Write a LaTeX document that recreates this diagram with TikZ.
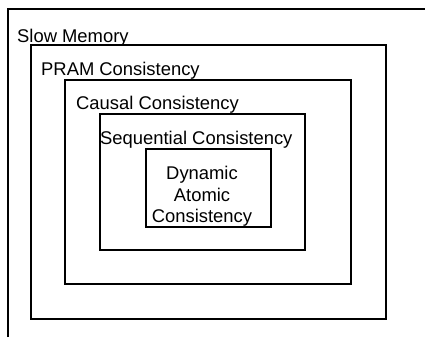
\documentclass[tikz,border=0pt]{standalone}
\usepackage{fontspec}
\setmainfont{Liberation Sans}
\usetikzlibrary{positioning}
\definecolor{ink}{HTML}{000000}

\begin{document}
\begin{tikzpicture}[
  x=1pt, y=-1pt,
  frame/.style={draw=ink, line width=2pt, inner sep=0pt, anchor=north west},
  level/.style={font=\fontsize{18.4}{21.5}\selectfont, text=ink, inner sep=0pt, anchor=base west}
]
\useasboundingbox (0,0) rectangle (425,337);

% outer region, cut off at the right and bottom
\coordinate (slowtop) at (425,9);
\coordinate (slowbot) at (8,337);
\draw[draw=ink, line width=2pt] (slowbot) -- (slowbot |- slowtop) -- (slowtop);

\node[frame, minimum width=355pt, minimum height=274pt] (pram) at (30,44) {};
\node[frame, minimum width=286pt, minimum height=204pt] (causal) at (64,79) {};
\node[frame, minimum width=205pt, minimum height=136pt] (seq) at (99,113) {};
\node[frame, minimum width=125pt, minimum height=78pt] (atomic) at (145,148) {};

\node[level] (slowlbl) at (17,42) {Slow Memory};
\node[level] (pramlbl) at (41,75.5) {PRAM Consistency};
\node[level] (causallbl) at (76,109.5) {Causal Consistency};
\node[level] (seqlbl) at (100,144.3) {Sequential Consistency};
\node[level, align=center, anchor=north] (atomiclbl) at (202,166)
  {Dynamic\\Atomic\\Consistency};
\end{tikzpicture}
\end{document}
